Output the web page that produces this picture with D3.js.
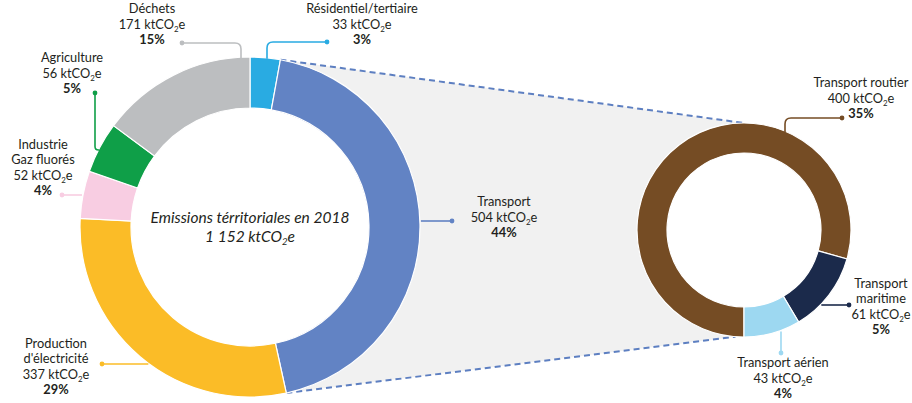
<!DOCTYPE html>
<html lang="fr">
<head>
<meta charset="UTF-8">
<title>Emissions territoriales</title>
<script src="https://cdn.jsdelivr.net/npm/d3@7"></script>
<style>
  body { margin: 0; background: #fff; }
  svg text { font-family: Lato, "Open Sans", sans-serif; fill: #231f20; }
  .lbl { font-size: 12.8px; }
  .pct { font-weight: bold; }
  .center-title { font-size: 15.5px; font-style: italic; }
</style>
</head>
<body>
<svg id="chart" width="912" height="403"></svg>
<script>
// données
var categories = ["Résidentiel/tertiaire", "Transport", "Production d'électricité", "Industrie Gaz fluorés", "Agriculture", "Déchets"]
var values = [33, 504, 337, 52, 56, 171]
var percents = ["3%", "44%", "29%", "4%", "5%", "15%"]
var colors = ["#29abe2", "#6283c4", "#fbbc27", "#f8cde2", "#0f9f48", "#bcbec0"]

var transportCategories = ["Transport routier", "Transport maritime", "Transport aérien"]
var transportValues = [400, 61, 43]
var transportPercents = ["35%", "5%", "4%"]
var transportColors = ["#754c24", "#1b2a4b", "#9dd8f1"]

var totalLabel = "1 152"
var titleLabel = "Emissions térritoriales en 2018"

// mise en page
var big = {cx: 250, cy: 227, r0: 119, r1: 170}
var small = {cx: 744, cy: 230, r0: 77, r1: 107}

// lignes de texte de chaque étiquette (nom sur une ou deux lignes)
var labelLines = [["Résidentiel/tertiaire"], ["Transport"], ["Production", "d'électricité"], ["Industrie", "Gaz fluorés"], ["Agriculture"], ["Déchets"]]
var transportLabelLines = [["Transport routier"], ["Transport", "maritime"], ["Transport aérien"]]

// position des étiquettes : x centre, y de la dernière ligne, point, type de trait
var labelPos = [
    {x: 362, y: 44, dot: [327, 42], mode: 'vh', ax: 267},
    {x: 504, y: 237, dot: [452, 221], mode: 'h'},
    {x: 56, y: 394, dot: [102, 364], mode: 'h'},
    {x: 43, y: 195, dot: [62, 195], mode: 'h'},
    {x: 72, y: 93, dot: [95, 93], mode: 'hv', ay: 150},
    {x: 152, y: 44, dot: [182, 43], mode: 'vh', ax: 241}
]
var transportLabelPos = [
    {x: 861, y: 118, dot: [842, 118], mode: 'vh', ax: 785},
    {x: 881, y: 334, dot: [849, 305], mode: 'h'},
    {x: 783, y: 398, dot: [781, 353], mode: 'v'}
]

var svg = d3.select('#chart')
var lineH = 15.3

var pieBig = d3.pie().sort(null).value(function(d) { return d }).startAngle(0).endAngle(2 * Math.PI)
var pieSmall = d3.pie().sort(null).value(function(d) { return d }).startAngle(Math.PI).endAngle(3 * Math.PI)
var arcsBig = pieBig(values)
var arcsSmall = pieSmall(transportValues)

var colorBig = d3.scaleOrdinal(categories, colors)
var colorSmall = d3.scaleOrdinal(transportCategories, transportColors)

function polar(c, r, a) {
    return [c.cx + r * Math.sin(a), c.cy - r * Math.cos(a)]
}

// zone grise + pointillés entre les deux anneaux
var tr = arcsBig[1]
var bigTop = polar(big, big.r1, tr.startAngle)
var bigBot = polar(big, big.r1, tr.endAngle)
var smTop = polar(small, small.r1, 2 * Math.PI)
var smBot = polar(small, small.r1, arcsSmall[0].startAngle + 0.08)

svg.append('path')
    .attr('d', 'M' + [bigTop, smTop, [small.cx, small.cy], smBot, bigBot, [big.cx, big.cy]].join('L') + 'Z')
    .style('fill', '#f1f1f1')

svg.selectAll('line.zoom')
    .data([[bigTop, smTop], [bigBot, smBot]])
    .enter().append('line')
    .attr('x1', function(d) { return d[0][0] })
    .attr('y1', function(d) { return d[0][1] })
    .attr('x2', function(d) { return d[1][0] })
    .attr('y2', function(d) { return d[1][1] })
    .style('stroke', '#5d7fc1')
    .style('stroke-width', 2)
    .style('stroke-dasharray', '6,4')

function drawDonut(c, arcs, names, color) {
    var arc = d3.arc().innerRadius(c.r0).outerRadius(c.r1)
    var g = svg.append('g').attr('transform', 'translate(' + c.cx + ',' + c.cy + ')')
    g.append('circle').attr('r', c.r0).style('fill', '#fff')
    g.selectAll('path')
        .data(arcs)
        .enter().append('path')
        .attr('d', arc)
        .style('fill', function(d, i) { return color(names[i]) })
        .style('stroke', '#fff')
        .style('stroke-width', 1.2)
}
drawDonut(big, arcsBig, categories, colorBig)
drawDonut(small, arcsSmall, transportCategories, colorSmall)

// texte central
svg.append('text').attr('class', 'center-title')
    .attr('x', big.cx).attr('y', 223).style('text-anchor', 'middle')
    .text(titleLabel)
var tot = svg.append('text').attr('class', 'center-title')
    .attr('x', big.cx).attr('y', 242).style('text-anchor', 'middle')
addCO2(tot, totalLabel + ' ktCO')

function addCO2(sel, prefix) {
    sel.append('tspan').text(prefix)
    sel.append('tspan').attr('dy', 3).style('font-size', '0.62em').text('2')
    sel.append('tspan').attr('dy', -3).text('e')
}

// point d'intersection du trait avec le cercle extérieur
function hitX(c, x, top) {
    var dx = x - c.cx
    var dy = Math.sqrt(c.r1 * c.r1 - dx * dx)
    return [x, top ? c.cy - dy : c.cy + dy]
}
function hitY(c, y, left) {
    var dy = y - c.cy
    var dx = Math.sqrt(c.r1 * c.r1 - dy * dy)
    return [left ? c.cx - dx : c.cx + dx, y]
}

function leaderPath(c, p) {
    var d = p.dot, rr = 6, a, s
    if (p.mode === 'h') {
        a = hitY(c, d[1], d[0] < c.cx)
        s = d[0] < c.cx ? 1 : -1
        return 'M' + d + 'L' + [a[0] - s * 1, a[1]]
    }
    if (p.mode === 'v') {
        a = hitX(c, d[0], d[1] < c.cy)
        s = d[1] < c.cy ? 1 : -1
        return 'M' + d + 'L' + [a[0], a[1] - s * 1]
    }
    if (p.mode === 'vh') {
        // point -> horizontal -> coin arrondi -> vertical vers l'anneau
        a = hitX(c, p.ax, true)
        s = p.ax > d[0] ? 1 : -1
        return 'M' + d + 'L' + [p.ax - s * rr, d[1]] +
            'Q' + [p.ax, d[1]] + ' ' + [p.ax, d[1] + rr] + 'L' + [p.ax, a[1] + 1]
    }
    // 'hv' : point -> vertical -> coin arrondi -> horizontal vers l'anneau
    a = hitY(c, p.ay, true)
    s = a[0] > d[0] ? 1 : -1
    var r2 = Math.min(rr, Math.abs(a[0] - d[0]))
    return 'M' + d + 'L' + [d[0], p.ay - r2] +
        'Q' + [d[0], p.ay] + ' ' + [d[0] + s * r2, p.ay] + 'L' + [a[0] + 1, p.ay]
}

function drawLabels(c, names, vals, pcts, lines, pos, color) {
    names.forEach(function(name, i) {
        var p = pos[i]
        var col = color(name)
        svg.append('path').attr('d', leaderPath(c, p))
            .style('fill', 'none').style('stroke', col).style('stroke-width', 1.6)
        svg.append('circle').attr('cx', p.dot[0]).attr('cy', p.dot[1]).attr('r', 2.4).style('fill', col)

        var all = lines[i].length + 2
        var y0 = p.y - (all - 1) * lineH
        lines[i].forEach(function(t, k) {
            svg.append('text').attr('class', 'lbl')
                .attr('x', p.x).attr('y', y0 + k * lineH).style('text-anchor', 'middle').text(t)
        })
        var v = svg.append('text').attr('class', 'lbl')
            .attr('x', p.x).attr('y', p.y - lineH).style('text-anchor', 'middle')
        addCO2(v, vals[i] + ' ktCO')
        svg.append('text').attr('class', 'lbl pct')
            .attr('x', p.x).attr('y', p.y).style('text-anchor', 'middle').text(pcts[i])
    })
}
drawLabels(big, categories, values, percents, labelLines, labelPos, colorBig)
drawLabels(small, transportCategories, transportValues, transportPercents, transportLabelLines, transportLabelPos, colorSmall)
</script>
</body>
</html>
